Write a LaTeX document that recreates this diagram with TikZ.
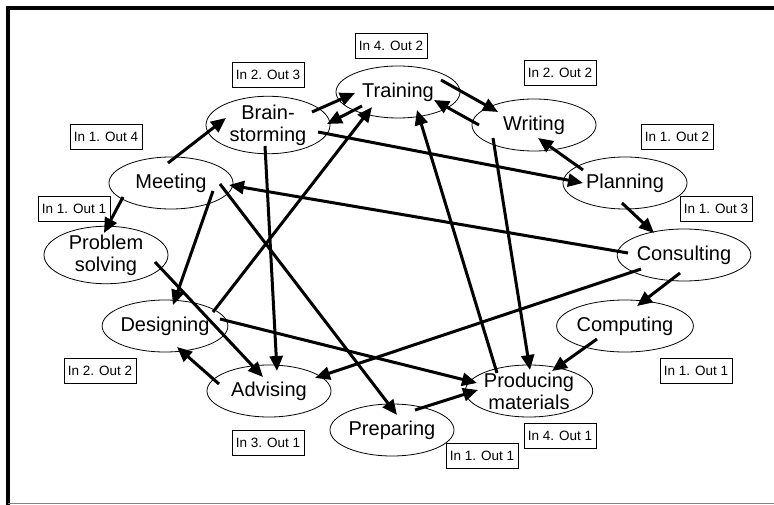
\documentclass[tikz,border=0pt]{standalone}
\usepackage{fontspec}
\setmainfont{Liberation Sans}
\usetikzlibrary{shapes.geometric,arrows.meta,calc}
\begin{document}
\begin{tikzpicture}[x=1pt,y=-1pt,
  task/.style={ellipse,draw,line width=0.8pt,minimum width=124pt,minimum height=52pt,
    inner sep=0pt,align=center,font=\fontsize{20}{22}\selectfont},
  tally/.style={rectangle,draw,line width=0.8pt,minimum width=72pt,minimum height=25pt,
    inner sep=1pt,font=\fontsize{13.5}{15}\selectfont},
  link/.style={line width=3pt,-{Triangle[length=15pt,width=13pt]}}]
\useasboundingbox (0,0) rectangle (774,505);
\fill[white] (0,0) rectangle (774,505);
% frame
\draw[line width=3.8pt] (8,505) -- (8,7.7) -- (774,7.7);
\draw[gray,line width=1pt] (8,503.3) -- (774,503.3);

% activities
\node[task] (train)  at (398,92)  {Training};
\node[task] (brain)  at (268,125) {Brain-\\storming};
\node[task] (write)  at (534,125) {Writing};
\node[task] (meet)   at (171,183) {Meeting};
\node[task] (plan)   at (625,183) {Planning};
\node[task] (prob)   at (106,255) {Problem\\solving};
\node[task] (cons)   at (684,255) {Consulting};
\node[task] (design) at (165,326) {Designing};
\node[task] (comp)   at (625,326) {Computing};
\node[task] (adv)    at (269,391) {Advising};
\node[task] (prod)   at (529,391) {Producing\\materials};
\node[task] (prep)   at (392,430) {Preparing};

% in/out counts
\node[tally] (tTrain)  at (391,46)  {In 4. Out 2};
\node[tally] (tBrain)  at (268,75)  {In 2. Out 3};
\node[tally] (tWrite)  at (560,73)  {In 2. Out 2};
\node[tally] (tMeet)   at (106,137) {In 1. Out 4};
\node[tally] (tPlan)   at (677,137) {In 1. Out 2};
\node[tally] (tProb)   at (74,209)  {In 1. Out 1};
\node[tally] (tCons)   at (716,209) {In 1. Out 3};
\node[tally] (tDesign) at (100,371) {In 2. Out 2};
\node[tally] (tComp)   at (696,371) {In 1. Out 1};
\node[tally] (tAdv)    at (268,443) {In 3. Out 1};
\node[tally] (tProd)   at (560,436) {In 4. Out 1};
\node[tally] (tPrep)   at (482,456) {In 1. Out 1};

% flows
\draw[link] ($(brain)+(44,-13)$) -- ($(train)+(-43,1)$);
\draw[link] ($(train)+(-36,14)$) -- ($(brain)+(59,-1)$);
\draw[link] ($(train)+(43,-12)$) -- ($(write)+(-36,-13)$);
\draw[link] ($(write)+(-55,0)$) -- ($(train)+(36,8)$);
\draw[link] ($(plan)+(-42,-13)$) -- ($(write)+(4,13)$);
\draw[link] ($(plan)+(-3,20)$) -- ($(cons)+(-30,-22)$);
\draw[link] ($(meet)+(-3,-20)$) -- ($(brain)+(-42,-7)$);
\draw[link] ($(meet)+(-48,14)$) -- ($(prob)+(-2,-22)$);
\draw[link] ($(brain)+(50,7)$) -- ($(plan)+(-42,0)$);
\draw[link] ($(cons)+(-56,-2)$) -- ($(meet)+(58,2)$);
\draw[link] ($(brain)+(-3,21)$) -- ($(adv)+(8,-20)$);
\draw[link] ($(meet)+(42,8)$) -- ($(design)+(8,-21)$);
\draw[link] ($(meet)+(49,1)$) -- ($(prep)+(5,-15)$);
\draw[link] ($(design)+(48,-14)$) -- ($(train)+(-26,15)$);
\draw[link] ($(prob)+(49,7)$) -- ($(adv)+(-6,-14)$);
\draw[link] ($(design)+(55,-7)$) -- ($(prod)+(-52,-8)$);
\draw[link] ($(adv)+(-50,-7)$) -- ($(design)+(12,21)$);
\draw[link] ($(cons)+(-43,14)$) -- ($(adv)+(46,-13)$);
\draw[link] ($(write)+(-41,13)$) -- ($(prod)+(1,-21)$);
\draw[link] ($(prod)+(-32,-18)$) -- ($(train)+(19,18)$);
\draw[link] ($(cons)+(-4,18)$) -- ($(comp)+(12,-20)$);
\draw[link] ($(comp)+(-28,13)$) -- ($(prod)+(23,-20)$);
\draw[link] ($(prep)+(23,-20)$) -- ($(prod)+(-51,-1)$);
\end{tikzpicture}
\end{document}
